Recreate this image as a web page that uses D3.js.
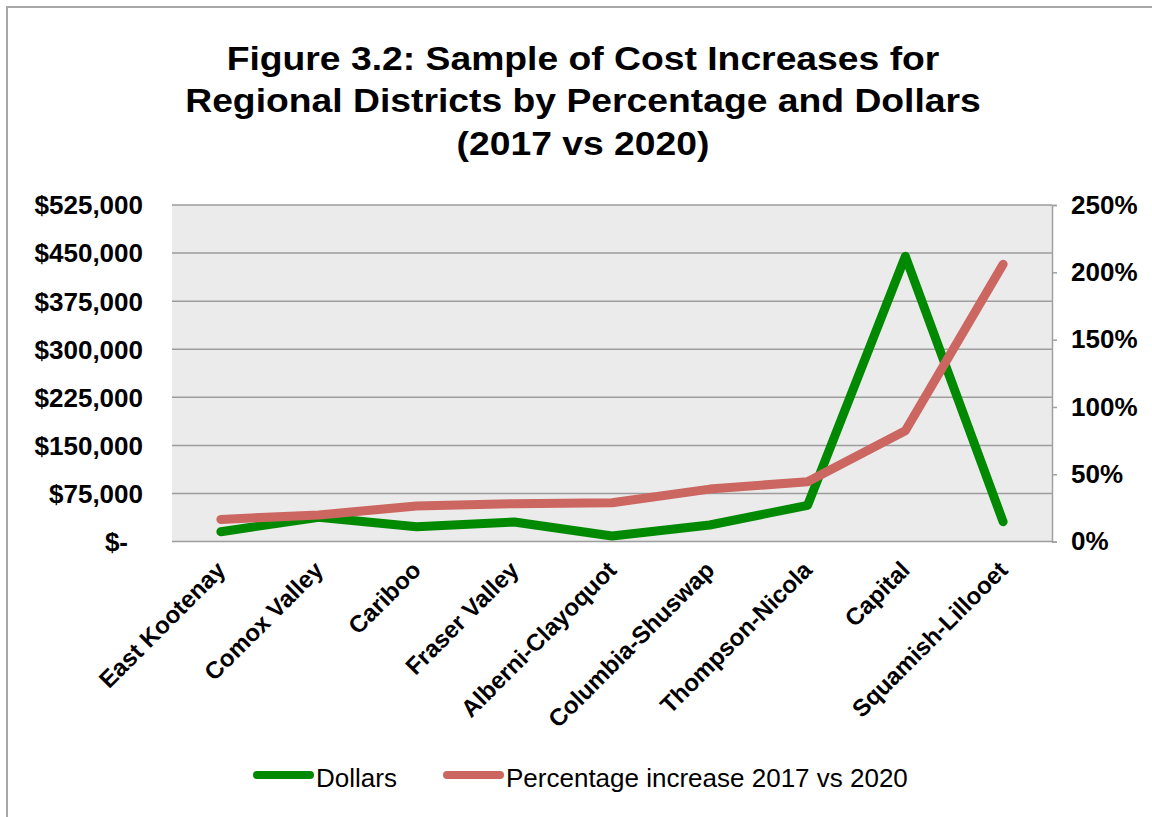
<!DOCTYPE html>
<html>
<head>
<meta charset="utf-8">
<script src="https://cdn.jsdelivr.net/npm/d3@7"></script>
<style>
  body { margin: 0; background: #fff; }
  text { font-family: "Liberation Sans", Arial, Helvetica, sans-serif; }
</style>
</head>
<body>
<div id="chart"></div>
<script>
const districts = ["East Kootenay", "Comox Valley", "Cariboo", "Fraser Valley", "Alberni-Clayoquot",
  "Columbia-Shuswap", "Thompson-Nicola", "Capital", "Squamish-Lillooet"];
const dollars = [15400, 38000, 23300, 30600, 8700, 25900, 56600, 445000, 31000];
const percentIncrease = [16.5, 19.8, 26.4, 28.2, 28.9, 39, 44.5, 82.4, 206];
const dollarTicks = [0, 75000, 150000, 225000, 300000, 375000, 450000, 525000];
const percentTicks = [0, 50, 100, 150, 200, 250];
const titleLines = ["Figure 3.2: Sample of Cost Increases for",
  "Regional Districts by Percentage and Dollars", "(2017 vs 2020)"];
const seriesNames = ["Dollars", "Percentage increase 2017 vs 2020"];

const width = 1152;
const height = 817;
const margin = { top: 205, right: 100, bottom: 275.4, left: 172 };
const greenColor = "#018a01";
const redColor = "#cc6661";

const svg = d3.select("#chart")
  .append("svg")
  .attr("width", width)
  .attr("height", height);

// outer frame (only top and left are visible in the picture)
svg.append("path")
  .attr("d", `M7,${height} L7,7 L${width},7`)
  .attr("fill", "none")
  .attr("stroke", "#a8a8a8")
  .attr("stroke-width", 2);

const x = d3.scaleBand()
  .domain(districts)
  .range([margin.left, width - margin.right]);

const yLeft = d3.scaleLinear()
  .domain([0, 525000])
  .range([height - margin.bottom, margin.top]);

const yRight = d3.scaleLinear()
  .domain([0, 250])
  .range([height - margin.bottom, margin.top]);

// plot background
svg.append("rect")
  .attr("x", margin.left)
  .attr("y", margin.top)
  .attr("width", width - margin.left - margin.right)
  .attr("height", height - margin.top - margin.bottom)
  .attr("fill", "#ebebeb");

// horizontal gridlines
svg.append("g")
  .selectAll("line")
  .data(dollarTicks)
  .enter().append("line")
  .attr("x1", margin.left)
  .attr("x2", width - margin.right)
  .attr("y1", d => yLeft(d))
  .attr("y2", d => yLeft(d))
  .attr("stroke", "#9d9d9d")
  .attr("stroke-width", 1.5);

// left axis labels
svg.append("g")
  .selectAll("text")
  .data(dollarTicks)
  .enter().append("text")
  .attr("x", d => d === 0 ? 128 : 143)
  .attr("y", d => yLeft(d))
  .attr("dy", "0.36em")
  .attr("text-anchor", "end")
  .style("font-size", "26px")
  .style("font-weight", "bold")
  .text(d => d === 0 ? "$-" : "$" + d3.format(",")(d));

// right axis
const rightAxis = d3.axisRight(yRight)
  .tickValues(percentTicks)
  .tickSize(5)
  .tickPadding(14)
  .tickFormat(d => d + "%");

const rightG = svg.append("g")
  .attr("transform", `translate(${width - margin.right},0)`)
  .call(rightAxis);

rightG.select(".domain").attr("stroke", "#a0a0a0").attr("stroke-width", 1.5);
rightG.selectAll(".tick line").attr("stroke", "#a0a0a0").attr("stroke-width", 1.5);
rightG.selectAll(".tick text")
  .attr("fill", "#000")
  .style("font-size", "26px")
  .style("font-weight", "bold")
  .style("font-family", "'Liberation Sans', Arial, sans-serif");

// category labels
svg.append("g")
  .selectAll("text")
  .data(districts)
  .enter().append("text")
  .attr("transform", d => `translate(${x(d) + x.bandwidth() / 2 + 6},${height - margin.bottom + 30}) rotate(-45)`)
  .attr("text-anchor", "end")
  .style("font-size", "24px")
  .style("font-weight", "bold")
  .text(d => d);

// series lines
const dollarLine = d3.line()
  .x((d, i) => x(districts[i]) + x.bandwidth() / 2)
  .y(d => yLeft(d));

const percentLine = d3.line()
  .x((d, i) => x(districts[i]) + x.bandwidth() / 2)
  .y(d => yRight(d));

svg.append("path")
  .datum(dollars)
  .attr("d", dollarLine)
  .attr("fill", "none")
  .attr("stroke", greenColor)
  .attr("stroke-width", 9)
  .attr("stroke-linecap", "round")
  .attr("stroke-linejoin", "round");

svg.append("path")
  .datum(percentIncrease)
  .attr("d", percentLine)
  .attr("fill", "none")
  .attr("stroke", redColor)
  .attr("stroke-width", 9)
  .attr("stroke-linecap", "round")
  .attr("stroke-linejoin", "round");

// title, stretched a little to match the wider face of the original
svg.append("text")
  .attr("transform", "translate(583,0) scale(1.13,1)")
  .attr("text-anchor", "middle")
  .style("font-size", "33px")
  .style("font-weight", "bold")
  .selectAll("tspan")
  .data(titleLines)
  .enter().append("tspan")
  .attr("x", 0)
  .attr("y", (d, i) => 70 + i * 42.5)
  .text(d => d);

// legend
const legendX = [253, 443];
const legendColors = [greenColor, redColor];
const legend = svg.append("g");

legend.selectAll("line")
  .data(seriesNames)
  .enter().append("line")
  .attr("x1", (d, i) => legendX[i] + 4)
  .attr("x2", (d, i) => legendX[i] + 57)
  .attr("y1", 775)
  .attr("y2", 775)
  .attr("stroke", (d, i) => legendColors[i])
  .attr("stroke-width", 8)
  .attr("stroke-linecap", "round");

legend.selectAll("text")
  .data(seriesNames)
  .enter().append("text")
  .attr("x", (d, i) => legendX[i] + 63)
  .attr("y", 787)
  .style("font-size", "26px")
  .text(d => d);
</script>
</body>
</html>
